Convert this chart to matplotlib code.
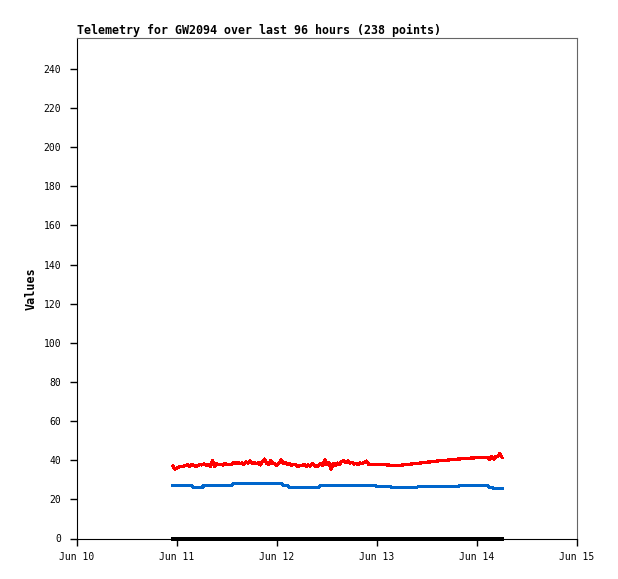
import numpy as np
import pandas as pd
import matplotlib
matplotlib.use("Agg")
import matplotlib.pyplot as plt
import matplotlib.dates as mdates

plt.rcParams['font.family'] = ['DejaVu Sans Mono', 'DejaVu Sans']

# telemetry samples, every 30 minutes
times = pd.date_range("2024-06-10 23:00", periods=159, freq="30min")

red = [37.0, 35.5, 36.0, 36.6, 36.6, 36.7, 37.3, 37.6, 37.0, 37.8,
       37.5, 36.6, 37.4, 37.8, 37.6, 38.2, 37.4, 37.8, 36.8, 39.8,
       37.0, 38.2, 37.8, 38.0, 37.6, 38.3, 37.8, 38.0, 37.8, 38.6,
       38.4, 39.0, 38.2, 38.6, 37.8, 39.2, 38.6, 39.6, 38.4, 38.9,
       38.2, 38.8, 37.6, 39.4, 40.6, 38.4, 38.0, 39.8, 38.4, 38.0,
       37.4, 38.6, 40.2, 38.4, 38.8, 37.8, 38.2, 37.4, 38.0, 37.6,
       36.8, 37.2, 37.4, 37.8, 36.8, 37.6, 37.0, 38.2, 37.4, 36.6,
       37.6, 38.4, 37.2, 40.2, 37.8, 38.8, 35.4, 38.2, 37.2, 38.6,
       38.0, 39.4, 39.8, 38.8, 39.6, 38.6, 38.8, 38.0, 38.4, 37.8,
       38.6, 38.2, 39.0, 39.6, 37.8, 37.8, 37.8, 38.0, 38.0, 37.9,
       37.9, 37.8, 37.7, 37.6, 37.5, 37.3, 37.3, 37.3, 37.3, 37.4,
       37.5, 37.7, 37.8, 37.9, 38.0, 38.1, 38.3, 38.4, 38.5, 38.6,
       38.7, 38.9, 39.0, 39.1, 39.2, 39.3, 39.5, 39.6, 39.7, 39.8,
       39.9, 40.0, 40.1, 40.2, 40.3, 40.4, 40.5, 40.6, 40.7, 40.8,
       40.9, 41.0, 41.0, 41.1, 41.1, 41.2, 41.2, 41.3, 41.3, 41.3,
       41.4, 41.3, 40.4, 42.0, 40.6, 41.8, 42.2, 43.4, 41.4]

blue = [27.1, 27.1, 27.1, 27.1, 27.1, 27.1, 27.1, 27.1, 27.1, 27.1,
        26.1, 26.1, 26.1, 26.1, 26.1, 27.1, 27.1, 27.1, 27.1, 27.1,
        27.1, 27.1, 27.1, 27.1, 27.1, 27.1, 27.1, 27.1, 27.1, 28.1,
        28.1, 28.1, 28.1, 28.1, 28.1, 28.1, 28.1, 28.1, 28.1, 28.1,
        28.1, 28.1, 28.1, 28.1, 28.1, 28.1, 28.1, 28.1, 28.1, 28.1,
        28.1, 28.1, 28.1, 27.1, 27.1, 27.1, 26.1, 26.1, 26.1, 26.1,
        26.1, 26.1, 26.1, 26.1, 26.1, 26.1, 26.1, 26.1, 26.1, 26.1,
        26.1, 27.1, 27.1, 27.1, 27.1, 27.1, 27.1, 27.1, 27.1, 27.1,
        27.1, 27.1, 27.1, 27.1, 27.1, 27.1, 27.1, 27.1, 27.1, 27.1,
        27.1, 27.1, 27.1, 27.1, 27.1, 27.1, 27.1, 27.1, 26.6, 26.6,
        26.6, 26.6, 26.6, 26.6, 26.6, 26.1, 26.1, 26.1, 26.1, 26.1,
        26.1, 26.1, 26.1, 26.1, 26.1, 26.1, 26.1, 26.1, 26.6, 26.6,
        26.6, 26.6, 26.6, 26.6, 26.6, 26.6, 26.6, 26.6, 26.6, 26.6,
        26.6, 26.6, 26.6, 26.6, 26.6, 26.6, 26.6, 26.6, 27.1, 27.1,
        27.1, 27.1, 27.1, 27.1, 27.1, 27.1, 27.1, 27.1, 27.1, 27.1,
        27.1, 27.1, 26.1, 26.1, 25.5, 25.5, 25.5, 25.5, 25.5]

black = [0.0] * len(times)

fig = plt.figure(figsize=(6.18, 5.79), dpi=100)
ax = fig.add_axes([77 / 618, 1 - 538.5 / 579, 500 / 618, 500.5 / 579])

ax.plot(times, black, color='black', lw=1.6, clip_on=False, antialiased=False)
ax.plot(times, blue, color='#0066cc', lw=1.6, antialiased=False)
ax.plot(times, red, color='#ff0000', lw=1.6, antialiased=False)

ax.set_xlim(pd.Timestamp("2024-06-10"), pd.Timestamp("2024-06-15"))
ax.set_ylim(0, 255.8)
ax.set_yticks(np.arange(0, 241, 20))
ax.xaxis.set_major_locator(mdates.DayLocator())
ax.xaxis.set_major_formatter(mdates.DateFormatter('%b %d'))

ax.tick_params(direction='out', length=5, width=1, labelsize=7, colors='black')
ax.tick_params(axis='y', pad=6.5)
ax.tick_params(axis='x', pad=5)

for s in ['top', 'right']:
    ax.spines[s].set_color('#666666')
for s in ['left', 'bottom']:
    ax.spines[s].set_color('black')

ax.set_title('Telemetry for GW2094 over last 96 hours (238 points)',
             loc='left', fontsize=8.4, fontweight='bold', pad=3)
ax.set_ylabel('Values', fontsize=8.5, fontweight='bold')
ax.yaxis.set_label_coords(-0.078, 0.5)

plt.savefig('out.png', dpi=100)
